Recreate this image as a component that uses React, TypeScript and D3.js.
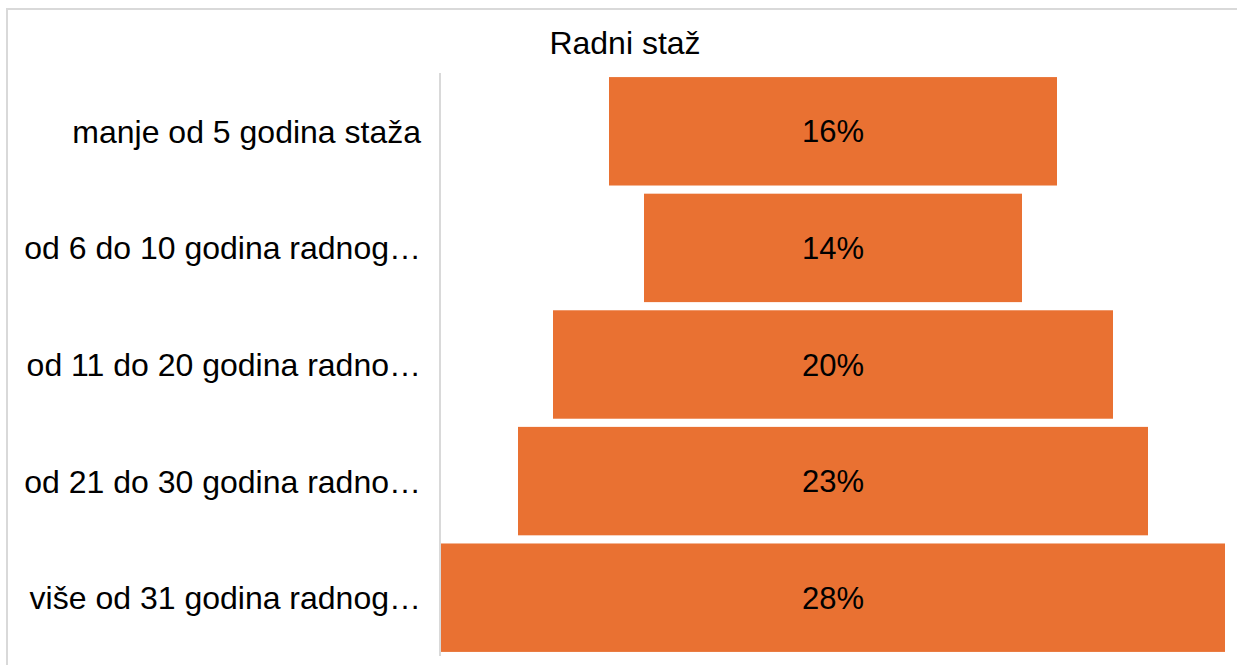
import React from 'react';
import * as d3 from 'd3';

const categories = [
  'manje od 5 godina staža',
  'od 6 do 10 godina radnog…',
  'od 11 do 20 godina radno…',
  'od 21 do 30 godina radno…',
  'više od 31 godina radnog…',
];
const values = [0.16, 0.135, 0.2, 0.225, 0.28];
const title = 'Radni staž';

const App = () => {
  const width = 1237;
  const height = 665;
  const font = '"Liberation Sans", Arial, sans-serif';

  const plotLeft = 441;
  const plotRight = 1225;
  const center = (plotLeft + plotRight) / 2;

  // Bar widths (funnel: bars centred on the plot)
  const x = d3.scaleLinear()
    .domain([0, d3.max(values) as number])
    .range([0, plotRight - plotLeft]);

  const y = d3.scaleBand<string>()
    .domain(categories)
    .range([73, 656])
    .paddingInner(0.07)
    .paddingOuter(0.035);

  const data = categories.map((c, i) => ({ cat: c, value: values[i] }));

  return (
    <svg width={width} height={height} style={{ position: 'absolute', left: 0, top: 0, background: '#fff' }}>
      <rect x={7} y={9} width={1260} height={700} fill="#fff" stroke="#d9d9d9" strokeWidth={2} />
      <text x={625} y={54} textAnchor="middle" fontFamily={font} fontSize={32} fill="#000">{title}</text>

      {data.map(d => {
        const w = x(d.value);
        const by = y(d.cat) as number;
        return (
          <g key={d.cat}>
            <rect x={center - w / 2} y={by} width={w} height={y.bandwidth()} fill="#E97132" />
            <text x={center} y={by + y.bandwidth() / 2} dy="0.36em" textAnchor="middle"
              fontFamily={font} fontSize={31} fill="#000">
              {d3.format('.0%')(d.value)}
            </text>
            <text x={421} y={by + y.bandwidth() / 2} dy="0.36em" textAnchor="end"
              fontFamily={font} fontSize={32} fill="#000">
              {d.cat}
            </text>
          </g>
        );
      })}

      <line x1={440} x2={440} y1={y.range()[0]} y2={y.range()[1]} stroke="#d9d9d9" strokeWidth={2} />
    </svg>
  );
};

export default App;
